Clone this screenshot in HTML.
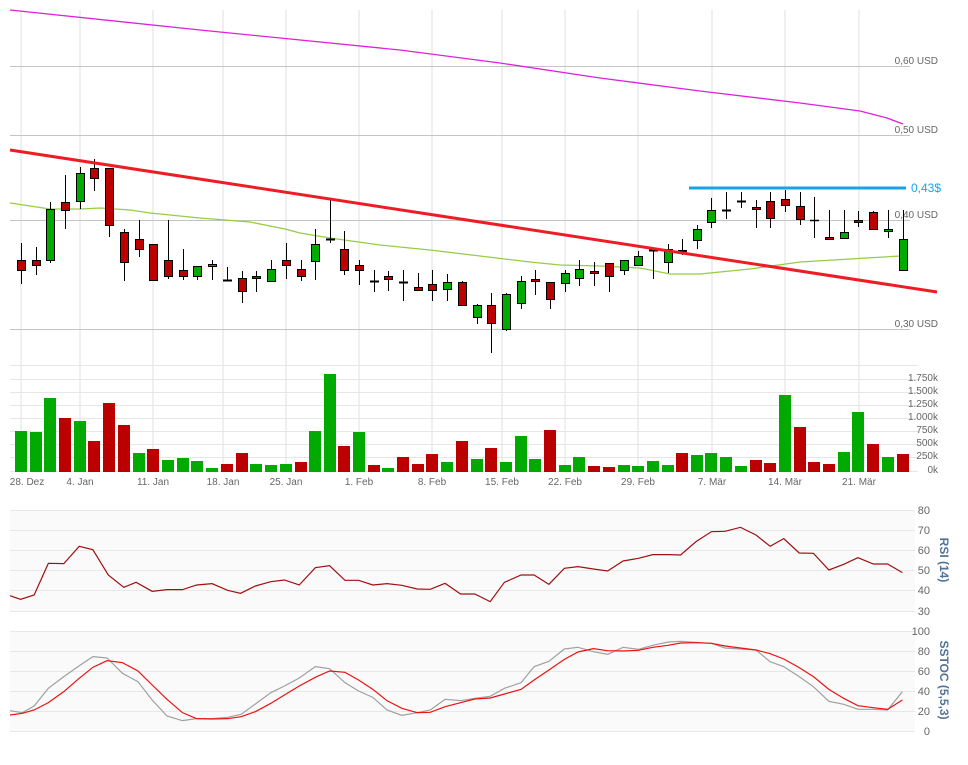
<!DOCTYPE html>
<html><head><meta charset="utf-8"><style>
html,body{margin:0;padding:0;background:#fff;}
svg{display:block;font-family:"Liberation Sans",sans-serif;}
</style></head><body>
<svg width="968" height="765" viewBox="0 0 968 765" xmlns="http://www.w3.org/2000/svg">
<!-- vertical grid -->
<g stroke="#efefef" stroke-width="2">
<line x1="21" y1="10" x2="21" y2="472"/><line x1="80" y1="10" x2="80" y2="472"/><line x1="153" y1="10" x2="153" y2="472"/><line x1="223" y1="10" x2="223" y2="472"/><line x1="286" y1="10" x2="286" y2="472"/><line x1="359" y1="10" x2="359" y2="472"/><line x1="432" y1="10" x2="432" y2="472"/><line x1="502" y1="10" x2="502" y2="472"/><line x1="565" y1="10" x2="565" y2="472"/><line x1="638" y1="10" x2="638" y2="472"/><line x1="712" y1="10" x2="712" y2="472"/><line x1="785" y1="10" x2="785" y2="472"/><line x1="859" y1="10" x2="859" y2="472"/>
</g>
<!-- price grid -->
<g stroke="#c4c4c4" stroke-width="1">
<line x1="10" y1="66.5" x2="910" y2="66.5"/><line x1="10" y1="135.5" x2="910" y2="135.5"/><line x1="10" y1="220.5" x2="910" y2="220.5"/><line x1="10" y1="329.5" x2="910" y2="329.5"/>
</g>
<g fill="#666" font-size="10" text-anchor="end">
<text x="938" y="64">0,60 USD</text><text x="938" y="133">0,50 USD</text><text x="938" y="218">0,40 USD</text><text x="938" y="327">0,30 USD</text>
</g>
<!-- volume grid -->
<g stroke="#e6e6e6" stroke-width="1">
<line x1="10" y1="365.5" x2="918" y2="365.5"/><line x1="10" y1="379.5" x2="918" y2="379.5"/><line x1="10" y1="392.5" x2="918" y2="392.5"/><line x1="10" y1="405.5" x2="918" y2="405.5"/><line x1="10" y1="418.5" x2="918" y2="418.5"/><line x1="10" y1="431.5" x2="918" y2="431.5"/><line x1="10" y1="444.5" x2="918" y2="444.5"/><line x1="10" y1="457.5" x2="918" y2="457.5"/><line x1="10" y1="471.5" x2="918" y2="471.5"/>
</g>
<g fill="#666" font-size="10" text-anchor="end">
<text x="938" y="381">1.750k</text><text x="938" y="394">1.500k</text><text x="938" y="407">1.250k</text><text x="938" y="420">1.000k</text><text x="938" y="433">750k</text><text x="938" y="446">500k</text><text x="938" y="459">250k</text><text x="938" y="473">0k</text>
</g>
<g fill="#666" font-size="10" text-anchor="middle">
<text x="27" y="485">28. Dez</text><text x="80" y="485">4. Jan</text><text x="153" y="485">11. Jan</text><text x="223" y="485">18. Jan</text><text x="286" y="485">25. Jan</text><text x="359" y="485">1. Feb</text><text x="432" y="485">8. Feb</text><text x="502" y="485">15. Feb</text><text x="565" y="485">22. Feb</text><text x="638" y="485">29. Feb</text><text x="712" y="485">7. Mär</text><text x="785" y="485">14. Mär</text><text x="859" y="485">21. Mär</text>
</g>
<!-- volume bars -->
<g>
<rect x="15" y="431" width="12" height="41" fill="#00aa00"/>
<rect x="30" y="432" width="12" height="40" fill="#00aa00"/>
<rect x="44" y="398" width="12" height="74" fill="#00aa00"/>
<rect x="59" y="418" width="12" height="54" fill="#bb0000"/>
<rect x="74" y="421" width="12" height="51" fill="#00aa00"/>
<rect x="88" y="441" width="12" height="31" fill="#bb0000"/>
<rect x="103" y="403" width="12" height="69" fill="#bb0000"/>
<rect x="118" y="425" width="12" height="47" fill="#bb0000"/>
<rect x="133" y="453" width="12" height="19" fill="#00aa00"/>
<rect x="147" y="449" width="12" height="23" fill="#bb0000"/>
<rect x="162" y="460" width="12" height="12" fill="#00aa00"/>
<rect x="177" y="458" width="12" height="14" fill="#00aa00"/>
<rect x="191" y="461" width="12" height="11" fill="#00aa00"/>
<rect x="206" y="468" width="12" height="4" fill="#00aa00"/>
<rect x="221" y="464" width="12" height="8" fill="#bb0000"/>
<rect x="236" y="453" width="12" height="19" fill="#bb0000"/>
<rect x="250" y="464" width="12" height="8" fill="#00aa00"/>
<rect x="265" y="465" width="12" height="7" fill="#00aa00"/>
<rect x="280" y="464" width="12" height="8" fill="#00aa00"/>
<rect x="295" y="462" width="12" height="10" fill="#bb0000"/>
<rect x="309" y="431" width="12" height="41" fill="#00aa00"/>
<rect x="324" y="374" width="12" height="98" fill="#00aa00"/>
<rect x="338" y="446" width="12" height="26" fill="#bb0000"/>
<rect x="353" y="432" width="12" height="40" fill="#00aa00"/>
<rect x="368" y="465" width="12" height="7" fill="#bb0000"/>
<rect x="382" y="468" width="12" height="4" fill="#00aa00"/>
<rect x="397" y="457" width="12" height="15" fill="#bb0000"/>
<rect x="412" y="464" width="12" height="8" fill="#bb0000"/>
<rect x="426" y="454" width="12" height="18" fill="#bb0000"/>
<rect x="441" y="462" width="12" height="10" fill="#00aa00"/>
<rect x="456" y="441" width="12" height="31" fill="#bb0000"/>
<rect x="471" y="459" width="12" height="13" fill="#00aa00"/>
<rect x="485" y="448" width="12" height="24" fill="#bb0000"/>
<rect x="500" y="462" width="12" height="10" fill="#00aa00"/>
<rect x="515" y="436" width="12" height="36" fill="#00aa00"/>
<rect x="529" y="459" width="12" height="13" fill="#00aa00"/>
<rect x="544" y="430" width="12" height="42" fill="#bb0000"/>
<rect x="559" y="465" width="12" height="7" fill="#00aa00"/>
<rect x="573" y="457" width="12" height="15" fill="#00aa00"/>
<rect x="588" y="466" width="12" height="6" fill="#bb0000"/>
<rect x="603" y="467" width="12" height="5" fill="#bb0000"/>
<rect x="618" y="465" width="12" height="7" fill="#00aa00"/>
<rect x="632" y="466" width="12" height="6" fill="#00aa00"/>
<rect x="647" y="461" width="12" height="11" fill="#00aa00"/>
<rect x="662" y="465" width="12" height="7" fill="#00aa00"/>
<rect x="676" y="453" width="12" height="19" fill="#bb0000"/>
<rect x="691" y="455" width="12" height="17" fill="#00aa00"/>
<rect x="705" y="453" width="12" height="19" fill="#00aa00"/>
<rect x="720" y="457" width="12" height="15" fill="#00aa00"/>
<rect x="735" y="466" width="12" height="6" fill="#00aa00"/>
<rect x="750" y="460" width="12" height="12" fill="#bb0000"/>
<rect x="764" y="463" width="12" height="9" fill="#bb0000"/>
<rect x="779" y="395" width="12" height="77" fill="#00aa00"/>
<rect x="794" y="427" width="12" height="45" fill="#bb0000"/>
<rect x="808" y="462" width="12" height="10" fill="#bb0000"/>
<rect x="823" y="464" width="12" height="8" fill="#bb0000"/>
<rect x="838" y="452" width="12" height="20" fill="#00aa00"/>
<rect x="852" y="412" width="12" height="60" fill="#00aa00"/>
<rect x="867" y="444" width="12" height="28" fill="#bb0000"/>
<rect x="882" y="457" width="12" height="15" fill="#00aa00"/>
<rect x="897" y="454" width="12" height="18" fill="#bb0000"/>
</g>
<!-- magenta long MA -->
<polyline fill="none" stroke="#dd22dd" stroke-width="1.3" points="10,10 200,30 400,50 500,63 600,78 700,91 800,103 860,111 887,118 903,124"/>
<!-- green MA -->
<polyline fill="none" stroke="#99cc44" stroke-width="1.3" points="10,203 50,209 80,209 100,208 130,210 150,213 200,218 250,222 285,229 300,233 330,238 380,245 430,250 480,256 530,262 560,265 600,266 640,268 670,274 700,274 750,269 800,262 850,259 900,256 905,252"/>
<!-- candles -->
<g stroke="#000" stroke-width="1">
<line x1="21.5" y1="243" x2="21.5" y2="284"/><rect x="17.5" y="260.5" width="8" height="10" fill="#bb0000"/>
<line x1="36.5" y1="247" x2="36.5" y2="275"/><rect x="32.5" y="260.5" width="8" height="5" fill="#bb0000"/>
<line x1="50.5" y1="202" x2="50.5" y2="263"/><rect x="46.5" y="209.5" width="8" height="51" fill="#00aa00"/>
<line x1="65.5" y1="175" x2="65.5" y2="229"/><rect x="61.5" y="202.5" width="8" height="8" fill="#bb0000"/>
<line x1="80.5" y1="167" x2="80.5" y2="209"/><rect x="76.5" y="173.5" width="8" height="28" fill="#00aa00"/>
<line x1="94.5" y1="159" x2="94.5" y2="191"/><rect x="90.5" y="168.5" width="8" height="10" fill="#bb0000"/>
<line x1="109.5" y1="168" x2="109.5" y2="237"/><rect x="105.5" y="168.5" width="8" height="57" fill="#bb0000"/>
<line x1="124.5" y1="229" x2="124.5" y2="281"/><rect x="120.5" y="232.5" width="8" height="30" fill="#bb0000"/>
<line x1="139.5" y1="220" x2="139.5" y2="257"/><rect x="135.5" y="239.5" width="8" height="10" fill="#bb0000"/>
<line x1="153.5" y1="244" x2="153.5" y2="280"/><rect x="149.5" y="244.5" width="8" height="36" fill="#bb0000"/>
<line x1="168.5" y1="220" x2="168.5" y2="279"/><rect x="164.5" y="260.5" width="8" height="16" fill="#bb0000"/>
<line x1="183.5" y1="249" x2="183.5" y2="280"/><rect x="179.5" y="270.5" width="8" height="6" fill="#bb0000"/>
<line x1="197.5" y1="266" x2="197.5" y2="280"/><rect x="193.5" y="266.5" width="8" height="10" fill="#00aa00"/>
<line x1="212.5" y1="260" x2="212.5" y2="280"/><rect x="208.5" y="264.5" width="8" height="2" fill="#00aa00"/>
<line x1="227.5" y1="267" x2="227.5" y2="281"/><line x1="223" y1="280.5" x2="232" y2="280.5" stroke-width="2"/>
<line x1="242.5" y1="271" x2="242.5" y2="303"/><rect x="238.5" y="278.5" width="8" height="13" fill="#bb0000"/>
<line x1="256.5" y1="271" x2="256.5" y2="292"/><rect x="252.5" y="276.5" width="8" height="2" fill="#bb0000"/>
<line x1="271.5" y1="260" x2="271.5" y2="281"/><rect x="267.5" y="269.5" width="8" height="12" fill="#00aa00"/>
<line x1="286.5" y1="243" x2="286.5" y2="279"/><rect x="282.5" y="260.5" width="8" height="5" fill="#bb0000"/>
<line x1="301.5" y1="260" x2="301.5" y2="281"/><rect x="297.5" y="269.5" width="8" height="7" fill="#bb0000"/>
<line x1="315.5" y1="229" x2="315.5" y2="280"/><rect x="311.5" y="244.5" width="8" height="17" fill="#00aa00"/>
<line x1="330.5" y1="200" x2="330.5" y2="243"/><line x1="326" y1="239.5" x2="335" y2="239.5" stroke-width="2"/>
<line x1="344.5" y1="231" x2="344.5" y2="275"/><rect x="340.5" y="249.5" width="8" height="21" fill="#bb0000"/>
<line x1="359.5" y1="260" x2="359.5" y2="285"/><rect x="355.5" y="265.5" width="8" height="5" fill="#bb0000"/>
<line x1="374.5" y1="270" x2="374.5" y2="292"/><line x1="370" y1="281.5" x2="379" y2="281.5" stroke-width="2"/>
<line x1="388.5" y1="271" x2="388.5" y2="291"/><rect x="384.5" y="276.5" width="8" height="3" fill="#bb0000"/>
<line x1="403.5" y1="270" x2="403.5" y2="301"/><line x1="399" y1="282.5" x2="408" y2="282.5" stroke-width="2"/>
<line x1="418.5" y1="273" x2="418.5" y2="290"/><rect x="414.5" y="287.5" width="8" height="3" fill="#bb0000"/>
<line x1="432.5" y1="270" x2="432.5" y2="301"/><rect x="428.5" y="284.5" width="8" height="6" fill="#bb0000"/>
<line x1="447.5" y1="274" x2="447.5" y2="301"/><rect x="443.5" y="282.5" width="8" height="7" fill="#00aa00"/>
<line x1="462.5" y1="281" x2="462.5" y2="306"/><rect x="458.5" y="282.5" width="8" height="23" fill="#bb0000"/>
<line x1="477.5" y1="304" x2="477.5" y2="324"/><rect x="473.5" y="305.5" width="8" height="12" fill="#00aa00"/>
<line x1="491.5" y1="293" x2="491.5" y2="353"/><rect x="487.5" y="305.5" width="8" height="18" fill="#bb0000"/>
<line x1="506.5" y1="293" x2="506.5" y2="331"/><rect x="502.5" y="294.5" width="8" height="35" fill="#00aa00"/>
<line x1="521.5" y1="276" x2="521.5" y2="309"/><rect x="517.5" y="281.5" width="8" height="22" fill="#00aa00"/>
<line x1="535.5" y1="270" x2="535.5" y2="295"/><rect x="531.5" y="279.5" width="8" height="2" fill="#bb0000"/>
<line x1="550.5" y1="282" x2="550.5" y2="309"/><rect x="546.5" y="282.5" width="8" height="17" fill="#bb0000"/>
<line x1="565.5" y1="270" x2="565.5" y2="292"/><rect x="561.5" y="273.5" width="8" height="10" fill="#00aa00"/>
<line x1="579.5" y1="260" x2="579.5" y2="286"/><rect x="575.5" y="269.5" width="8" height="9" fill="#00aa00"/>
<line x1="594.5" y1="262" x2="594.5" y2="286"/><rect x="590.5" y="271.5" width="8" height="2" fill="#bb0000"/>
<line x1="609.5" y1="263" x2="609.5" y2="292"/><rect x="605.5" y="263.5" width="8" height="13" fill="#bb0000"/>
<line x1="624.5" y1="260" x2="624.5" y2="275"/><rect x="620.5" y="260.5" width="8" height="10" fill="#00aa00"/>
<line x1="638.5" y1="251" x2="638.5" y2="265"/><rect x="634.5" y="256.5" width="8" height="9" fill="#00aa00"/>
<line x1="653.5" y1="250" x2="653.5" y2="279"/><line x1="649" y1="250.5" x2="658" y2="250.5" stroke-width="2"/>
<line x1="668.5" y1="244" x2="668.5" y2="273"/><rect x="664.5" y="249.5" width="8" height="13" fill="#00aa00"/>
<line x1="682.5" y1="239" x2="682.5" y2="255"/><rect x="678.5" y="250.5" width="8" height="1" fill="#00aa00"/>
<line x1="697.5" y1="225" x2="697.5" y2="249"/><rect x="693.5" y="229.5" width="8" height="11" fill="#00aa00"/>
<line x1="711.5" y1="198" x2="711.5" y2="228"/><rect x="707.5" y="210.5" width="8" height="12" fill="#00aa00"/>
<line x1="726.5" y1="192" x2="726.5" y2="219"/><line x1="722" y1="210.5" x2="731" y2="210.5" stroke-width="2"/>
<line x1="741.5" y1="192" x2="741.5" y2="208"/><line x1="737" y1="201.5" x2="746" y2="201.5" stroke-width="2"/>
<line x1="756.5" y1="200" x2="756.5" y2="228"/><rect x="752.5" y="207.5" width="8" height="2" fill="#bb0000"/>
<line x1="770.5" y1="192" x2="770.5" y2="228"/><rect x="766.5" y="201.5" width="8" height="17" fill="#bb0000"/>
<line x1="785.5" y1="190" x2="785.5" y2="212"/><rect x="781.5" y="199.5" width="8" height="6" fill="#bb0000"/>
<line x1="800.5" y1="192" x2="800.5" y2="225"/><rect x="796.5" y="206.5" width="8" height="13" fill="#bb0000"/>
<line x1="814.5" y1="197" x2="814.5" y2="238"/><line x1="810" y1="220.5" x2="819" y2="220.5" stroke-width="1.5"/>
<line x1="829.5" y1="210" x2="829.5" y2="239"/><rect x="825.5" y="237.5" width="8" height="2" fill="#bb0000"/>
<line x1="844.5" y1="210" x2="844.5" y2="238"/><rect x="840.5" y="232.5" width="8" height="6" fill="#00aa00"/>
<line x1="858.5" y1="211" x2="858.5" y2="227"/><rect x="854.5" y="220.5" width="8" height="2" fill="#bb0000"/>
<line x1="873.5" y1="211" x2="873.5" y2="229"/><rect x="869.5" y="212.5" width="8" height="17" fill="#bb0000"/>
<line x1="888.5" y1="210" x2="888.5" y2="238"/><rect x="884.5" y="229.5" width="8" height="2" fill="#00aa00"/>
<line x1="903.5" y1="210" x2="903.5" y2="270"/><rect x="899.5" y="239.5" width="8" height="31" fill="#00aa00"/>
</g>
<!-- trend line -->
<line x1="10" y1="150" x2="937" y2="292" stroke="#ee1c25" stroke-width="3"/>
<!-- resistance -->
<line x1="689" y1="188" x2="906" y2="188" stroke="#1aa3e8" stroke-width="3"/>
<text x="911" y="192" font-size="12" fill="#1aa3e8">0,43$</text>

<!-- RSI panel -->
<rect x="10" y="510" width="905" height="101" fill="#fafafa"/>
<g stroke="#e8e8e8" stroke-width="1">
<line x1="10" y1="510.5" x2="915" y2="510.5"/><line x1="10" y1="530.5" x2="915" y2="530.5"/><line x1="10" y1="550.5" x2="915" y2="550.5"/><line x1="10" y1="570.5" x2="915" y2="570.5"/><line x1="10" y1="590.5" x2="915" y2="590.5"/><line x1="10" y1="611.5" x2="915" y2="611.5"/>
</g>
<g fill="#666" font-size="11" text-anchor="end">
<text x="930" y="514">80</text><text x="930" y="534">70</text><text x="930" y="554">60</text><text x="930" y="574">50</text><text x="930" y="594">40</text><text x="930" y="615">30</text>
</g>
<text transform="translate(940,560) rotate(90)" font-size="12" font-weight="bold" fill="#4f7399" text-anchor="middle">RSI (14)</text>
<g transform="translate(-1.1,495) scale(0.618,0.3333)">
<polyline fill="none" stroke="#a01010" stroke-width="1.2" vector-effect="non-scaling-stroke" points="18,302 35,313 57,300 80,205 105,206 130,154 152,164 177,240 202,277 222,262 248,289 272,284 297,284 320,270 345,266 370,286 391,295 415,273 440,260 462,255 486,270 512,218 535,212 560,256 582,256 605,270 628,266 652,271 677,282 698,283 722,265 747,297 770,297 795,320 818,262 845,240 866,240 890,268 915,220 937,215 962,222 985,228 1010,198 1035,190 1058,179 1083,179 1103,180 1128,140 1153,110 1175,109 1200,97 1225,120 1248,154 1270,131 1295,174 1318,175 1343,225 1367,208 1390,188 1415,207 1438,207 1462,233"/>
</g>

<!-- Stoch panel -->
<rect x="10" y="631" width="905" height="100" fill="#fafafa"/>
<g stroke="#e8e8e8" stroke-width="1">
<line x1="10" y1="631.5" x2="915" y2="631.5"/><line x1="10" y1="651.5" x2="915" y2="651.5"/><line x1="10" y1="671.5" x2="915" y2="671.5"/><line x1="10" y1="691.5" x2="915" y2="691.5"/><line x1="10" y1="711.5" x2="915" y2="711.5"/><line x1="10" y1="731.5" x2="915" y2="731.5"/>
</g>
<g fill="#666" font-size="11" text-anchor="end">
<text x="930" y="635">100</text><text x="930" y="655">80</text><text x="930" y="675">60</text><text x="930" y="695">40</text><text x="930" y="715">20</text><text x="930" y="735">0</text>
</g>
<text transform="translate(940,680) rotate(90)" font-size="12" font-weight="bold" fill="#4f7399" text-anchor="middle">SSTOC (5,5,3)</text>
<g transform="translate(-1.1,620) scale(0.618,0.3333)">
<polyline fill="none" stroke="#a0a0a0" stroke-width="1.2" vector-effect="non-scaling-stroke" points="18,272 38,278 57,258 80,205 105,170 128,140 152,110 175,114 200,160 225,185 248,240 272,288 297,302 320,296 345,296 370,292 392,283 415,252 440,218 462,198 486,174 512,140 535,146 560,188 582,213 605,232 628,270 652,286 677,278 698,270 722,238 747,242 770,235 795,229 818,205 845,188 866,140 890,124 915,87 937,82 962,95 985,103 1010,82 1035,88 1058,76 1083,66 1103,64 1128,67 1153,70 1175,84 1200,87 1225,90 1248,125 1270,140 1295,170 1318,200 1343,244 1367,253 1390,268 1415,268 1438,270 1462,215"/>
<polyline fill="none" stroke="#ee1111" stroke-width="1.2" vector-effect="non-scaling-stroke" points="18,285 38,280 57,270 80,248 105,215 128,178 152,142 175,122 200,128 225,153 248,195 272,238 297,278 320,296 345,297 370,296 392,290 415,275 440,250 462,225 486,198 512,172 535,153 560,157 582,180 605,208 628,242 652,265 677,278 698,277 722,260 747,248 770,237 795,234 818,222 845,208 866,180 890,150 915,118 937,96 962,86 985,92 1010,93 1035,91 1058,82 1083,76 1103,69 1128,68 1153,70 1175,78 1200,84 1225,90 1248,101 1270,117 1295,143 1318,170 1343,208 1367,235 1390,257 1415,263 1438,268 1462,240"/>
</g>
</svg>
</body></html>
